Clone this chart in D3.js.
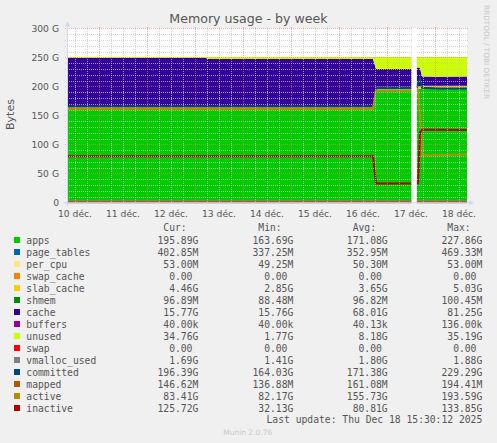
<!DOCTYPE html>
<html><head><meta charset="utf-8">
<script src="https://cdn.jsdelivr.net/npm/d3@7"></script>
<style>
body{margin:0;background:#f0f0f0}
svg{display:block}
text{white-space:pre}
</style>
</head><body>
<svg id="c" width="497" height="443"></svg>
<script>
// ---- data (GB) ----
const times = ["2025-12-10 08:00","2025-12-13 05:30","2025-12-13 06:30","2025-12-16 17:00","2025-12-16 18:30","2025-12-17 12:20","2025-12-17 12:30","2025-12-17 14:50","2025-12-17 15:30","2025-12-17 16:30","2025-12-17 17:30","2025-12-18 02:00","2025-12-18 16:00"];
const apps        = [162.0,162.0,161.8,161.8,194.5,194.5,null,194.6,195.0,195.5,195.8,195.8,195.9];
const page_tables = [0.34,0.34,0.34,0.34,0.38,0.38,null,0.40,0.45,0.45,0.40,0.40,0.40];
const per_cpu     = [0.05,0.05,0.05,0.05,0.05,0.05,null,0.05,0.05,0.05,0.05,0.05,0.05];
const swap_cache  = [0,0,0,0,0,0,null,0,0,0,0,0,0];
const slab_cache  = [3.4,3.4,3.3,3.3,4.0,4.0,null,4.2,4.3,4.4,4.4,4.45,4.46];
const shmem       = [0.1,0.1,0.1,0.1,0.1,0.1,null,0.1,0.1,0.1,0.1,0.1,0.1];
const cache       = [82.8,82.8,81.3,81.3,31.0,31.0,null,32.0,33.0,31.0,16.0,15.8,15.8];
const buffers     = [0,0,0,0,0,0,null,0,0,0,0,0,0];
const unused      = [1.8,1.8,3.6,3.6,20.5,20.5,null,19.2,18.1,19.0,33.8,33.8,33.8];
const swap        = [0,0,0,0,0,0,null,0,0,0,0,0,0];
const vmalloc_used= [1.85,1.85,1.85,1.85,1.8,1.8,null,1.75,1.7,1.7,1.69,1.69,1.69];
const committed   = [165.2,165.2,165.0,165.0,197.0,197.0,null,197.3,205.0,214.0,197.5,196.4,196.4];
const mapped      = [0.16,0.16,0.16,0.16,0.18,0.18,null,0.19,0.19,0.17,0.15,0.15,0.15];
const active      = [161.0,161.0,160.8,160.8,192.5,192.5,null,194.0,194.0,150.0,81.0,81.0,82.8];
const inactive    = [79.3,79.3,79.3,79.3,32.2,32.2,null,32.2,32.5,120.0,125.0,125.0,124.5];

const yTicks = [0,50,100,150,200,250,300];
const yTickLabels = ["0","50 G","100 G","150 G","200 G","250 G","300 G"];
const dayLabels = ["10 déc.","11 déc.","12 déc.","13 déc.","14 déc.","15 déc.","16 déc.","17 déc.","18 déc."];

const legendNames = ["apps","page_tables","per_cpu","swap_cache","slab_cache","shmem","cache","buffers","unused","swap","vmalloc_used","committed","mapped","active","inactive"];
const legendColors = ["#00CC00","#0066B3","#FFE680","#FF8000","#FFCC00","#008F00","#330099","#990099","#CCFF00","#FF0000","#808080","#00487D","#B35A00","#B38F00","#B30000"];
const curVals = ["195.89G","402.85M","53.00M","0.00 ","4.46G","96.89M","15.77G","40.00k","34.76G","0.00 ","1.69G","196.39G","146.62M","83.41G","125.72G"];
const minVals = ["163.69G","337.25M","49.25M","0.00 ","2.85G","88.48M","15.76G","40.00k","1.77G","0.00 ","1.41G","164.03G","136.88M","82.17G","32.13G"];
const avgVals = ["171.08G","352.95M","50.30M","0.00 ","3.65G","96.82M","68.01G","40.13k","8.18G","0.00 ","1.80G","171.38G","161.08M","155.73G","80.81G"];
const maxVals = ["227.86G","469.33M","53.00M","0.00 ","5.03G","100.45M","81.25G","136.00k","35.19G","0.00 ","1.88G","229.29G","194.41M","193.59G","133.85G"];

// ---- build ----
const series = {apps,page_tables,per_cpu,swap_cache,slab_cache,shmem,cache,buffers,unused,swap,vmalloc_used,committed,mapped,active,inactive};
const colorOf = {}; legendNames.forEach((n,i)=>colorOf[n]=legendColors[i]);
const parse = d3.timeParse("%Y-%m-%d %H:%M");
const rows = times.map((t,i)=>{const r={t:parse(t)}; for(const k in series) r[k]=series[k][i]; return r;});
const stackKeys = ["apps","page_tables","per_cpu","swap_cache","slab_cache","shmem","cache","buffers","unused","swap"];
const lineKeys = ["vmalloc_used","committed","mapped","active","inactive"];

const svg = d3.select("#c");
const X0=67, X1=467, Y0=202.3, Y1=28.3;
const x = d3.scaleTime().domain([parse("2025-12-10 08:00"), parse("2025-12-18 16:00")]).range([X0,X1]);
const y = d3.scaleLinear().domain([0,300]).range([Y0,Y1]);

svg.append("rect").attr("x",X0).attr("y",Y1).attr("width",X1-X0).attr("height",Y0-Y1).attr("fill","#fff");

const defined = d=>d.apps!=null;
const cum = rows.map(r=>{ if(r.apps==null) return null; let s=0; const o={}; stackKeys.forEach(k=>{o[k]=[s,s+r[k]]; s+=r[k];}); return o;});
stackKeys.forEach(k=>{
  const area = d3.area().defined((d,i)=>cum[i]!=null).x(d=>x(d.t)).y0((d,i)=>y(cum[i][k][0])).y1((d,i)=>y(cum[i][k][1]));
  svg.append("path").datum(rows).attr("d",area).attr("fill",colorOf[k]);
});
lineKeys.forEach(k=>{
  const line = d3.line().defined(defined).x(d=>x(d.t)).y(d=>y(d[k]));
  svg.append("path").datum(rows).attr("d",line).attr("fill","none").attr("stroke",colorOf[k]).attr("stroke-width",2);
});

// grid on top
const g = svg.append("g").attr("shape-rendering","crispEdges");
const minorY = d3.range(0,301,10).filter(v=>!yTicks.includes(v));
minorY.forEach(v=>g.append("line").attr("x1",X0-2).attr("x2",X1+2).attr("y1",Math.round(y(v))+0.5).attr("y2",Math.round(y(v))+0.5).attr("stroke","rgba(200,200,200,0.75)").attr("stroke-dasharray","1,1"));
const minorX = d3.timeHour.every(6).range(x.domain()[0], x.domain()[1]).filter(d=>d.getHours()!==0);
minorX.forEach(d=>g.append("line").attr("x1",Math.round(x(d))+0.5).attr("x2",Math.round(x(d))+0.5).attr("y1",Y0+2).attr("y2",Y1-2).attr("stroke","rgba(200,200,200,0.75)").attr("stroke-dasharray","1,1"));
yTicks.forEach(v=>g.append("line").attr("x1",X0-2).attr("x2",X1+2).attr("y1",Math.round(y(v))+0.5).attr("y2",Math.round(y(v))+0.5).attr("stroke","rgba(240,120,120,0.6)").attr("stroke-dasharray","1,1"));
const majorX = d3.timeDay.range(x.domain()[0], x.domain()[1]);
majorX.forEach(d=>g.append("line").attr("x1",Math.round(x(d))+0.5).attr("x2",Math.round(x(d))+0.5).attr("y1",Y0+2).attr("y2",Y1-2).attr("stroke","rgba(240,120,120,0.6)").attr("stroke-dasharray","1,1"));

// gap (unknown data)
const gapA = parse("2025-12-17 12:20"), gapB = parse("2025-12-17 14:50");
svg.append("rect").attr("x",x(gapA)).attr("y",Y1).attr("width",x(gapB)-x(gapA)).attr("height",Y0-Y1+2).attr("fill","#fff");

// axes
const axc = "#CFD6F8";
svg.append("line").attr("x1",X0-4).attr("x2",X1+2).attr("y1",Y0+0.5).attr("y2",Y0+0.5).attr("stroke",axc);
svg.append("line").attr("x1",X0+0.5).attr("x2",X0+0.5).attr("y1",Y0+4).attr("y2",Y1-2).attr("stroke",axc);
svg.append("path").attr("d",`M${X1+2},${Y0-2} L${X1+7},${Y0+0.5} L${X1+2},${Y0+3} Z`).attr("fill",axc);
svg.append("path").attr("d",`M${X0-2},${Y1-2} L${X0+0.5},${Y1-7} L${X0+3},${Y1-2} Z`).attr("fill",axc);

const font = "DejaVu Sans", mono = "DejaVu Sans Mono", fc = "#555";
// y labels
yTicks.forEach((v,i)=>svg.append("text").attr("x",59).attr("y",y(v)+3.4).attr("text-anchor","end").attr("font-family",font).attr("font-size",9.2).attr("fill",fc).text(yTickLabels[i]));
// x labels at noon
majorX.concat([]).forEach(()=>{});
const noons = d3.timeDay.range(parse("2025-12-10 00:00"), parse("2025-12-19 00:00")).map(d=>d3.timeHour.offset(d,12));
noons.forEach((d,i)=>svg.append("text").attr("x",x(d)).attr("y",216.7).attr("text-anchor","middle").attr("font-family",font).attr("font-size",9.2).attr("fill",fc).text(dayLabels[i]));

// title & axis label
svg.append("text").attr("x",248.5).attr("y",22.7).attr("text-anchor","middle").attr("font-family",font).attr("font-size",12.6).attr("fill",fc).text("Memory usage - by week");
svg.append("text").attr("transform","translate(14,114.5) rotate(-90)").attr("text-anchor","middle").attr("font-family",font).attr("font-size",11).attr("fill",fc).text("Bytes");
svg.append("text").attr("transform","translate(484,5) rotate(90)").attr("text-anchor","start").attr("font-family",font).attr("font-size",7.3).attr("fill","#c8c8c8").text("RRDTOOL / TOBI OETIKER");

// legend
const cols = [198.3,293.3,387.7,482.3];
const heads = ["Cur:  ","Min:  ","Avg:  ","Max:  "];
const lt = (xx,yy,s,anchor)=>svg.append("text").attr("x",xx).attr("y",yy).attr("text-anchor",anchor).attr("font-family",mono).attr("font-size",9.7).attr("fill",fc).text(s);
heads.forEach((h,i)=>lt(cols[i],227.7+3.5,h,"end"));
legendNames.forEach((n,i)=>{
  const cy = 240 + i*12;
  svg.append("rect").attr("x",14).attr("y",cy-3).attr("width",6).attr("height",6).attr("fill",legendColors[i]);
  lt(26.3,cy+3.5,n,"start");
  [curVals,minVals,avgVals,maxVals].forEach((arr,j)=>lt(cols[j],cy+3.5,arr[i],"end"));
});
lt(482.3,419.5+3.5,"Last update: Thu Dec 18 15:30:12 2025","end");
svg.append("text").attr("x",247.7).attr("y",435).attr("text-anchor","middle").attr("font-family",font).attr("font-size",7.5).attr("fill","#c8c8c8").text("Munin 2.0.76");
</script>
</body></html>
